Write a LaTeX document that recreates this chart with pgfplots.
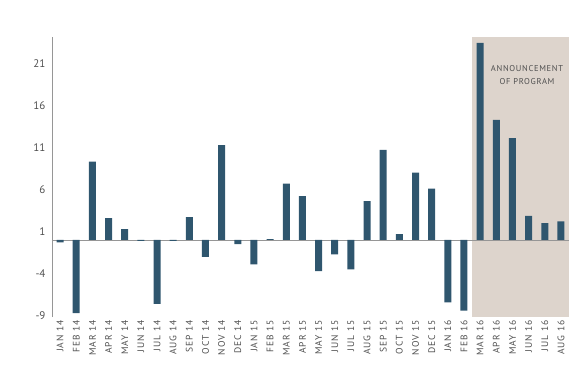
\documentclass[border=0pt]{standalone}
\usepackage{fontspec}
\setmainfont{PT Sans}
\newfontfamily\lsfont{PT Sans}[LetterSpace=10]
\newfontfamily\lsfontb{PT Sans}[LetterSpace=8]
\usepackage{pgfplots}
\pgfplotsset{compat=1.18}
\definecolor{barc}{RGB}{47,86,110}
\definecolor{shadec}{RGB}{221,212,204}
\definecolor{txt}{RGB}{80,80,80}
\definecolor{axc}{RGB}{150,150,150}
\begin{document}
\begin{tikzpicture}
\useasboundingbox (-52pt,-61pt) rectangle (533pt,317pt);
\begin{axis}[
  scale only axis, width=517pt, height=280pt,
  xmin=-0.5, xmax=31.5, ymin=-9.15, ymax=24.1,
  axis y line*=left, axis x line*=bottom,
  x axis line style={draw=none},
  y axis line style={axc, line width=0.6pt},
  major tick length=0,
  ytick={-9,-4,1,6,11,16,21},
  yticklabel style={font=\fontsize{11}{12}\selectfont, text=txt, xshift=-3pt},
  /pgf/number format/assume math mode=true,
  xtick={0,...,31},
  xticklabels={JAN 14,FEB 14,MAR 14,APR 14,MAY 14,JUN 14,JUL 14,AUG 14,SEP 14,OCT 14,NOV 14,DEC 14,JAN 15,FEB 15,MAR 15,APR 15,MAY 15,JUN 15,JUL 15,AUG 15,SEP 15,OCT 15,NOV 15,DEC 15,JAN 16,FEB 16,MAR 16,APR 16,MAY 16,JUN 16,JUL 16,AUG 16},
  xticklabel style={rotate=90, anchor=east, font=\lsfont\fontsize{9.5}{10}\selectfont, text=txt},
  ybar, bar width=7pt,
  clip=false,
]
\fill[shadec] (axis cs:25.5,-9.15) rectangle (axis cs:31.5,24.1);
\draw[axc, line width=0.6pt] (axis cs:-0.5,0) -- (axis cs:31.5,0);
\addplot[fill=barc, draw=none] coordinates {
(0,-0.3)(1,-8.7)(2,9.3)(3,2.6)(4,1.3)(5,-0.1)(6,-7.6)(7,-0.1)
(8,2.7)(9,-2.0)(10,11.25)(11,-0.5)(12,-2.9)(13,0.1)(14,6.7)(15,5.2)
(16,-3.7)(17,-1.7)(18,-3.5)(19,4.6)(20,10.7)(21,0.7)(22,8.0)(23,6.1)
(24,-7.4)(25,-8.4)(26,23.4)(27,14.25)(28,12.1)(29,2.85)(30,2.0)(31,2.2)
};
\node[align=center, font=\lsfontb\fontsize{8.5}{13}\selectfont, text=txt] at (axis cs:28.9,19.6) {ANNOUNCEMENT\\OF PROGRAM};
\end{axis}
\end{tikzpicture}
\end{document}
